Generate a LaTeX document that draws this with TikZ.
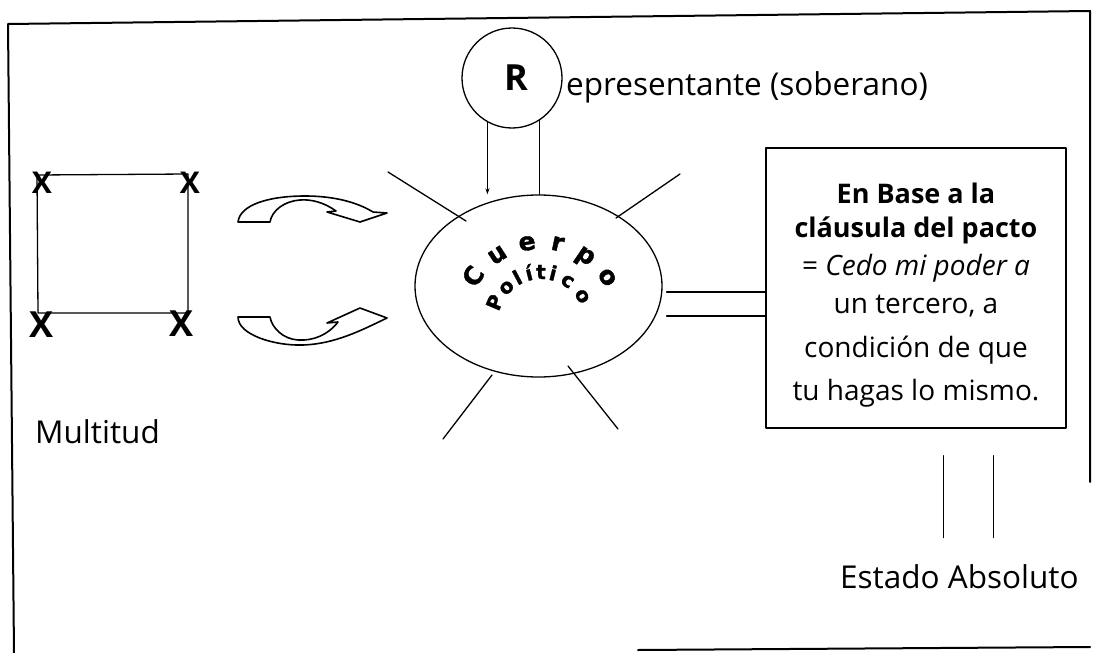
\documentclass[tikz,border=0pt]{standalone}
\usepackage{fontspec}
\setmainfont{Open Sans}
\newfontfamily\heavy[FakeBold=1.5]{DejaVu Sans}
\usetikzlibrary{calc,arrows.meta,shapes.geometric}
\begin{document}
\begin{tikzpicture}[x=1pt,y=-1pt,line cap=round,line join=round,
  frameline/.style={line width=2pt},
  thinline/.style={line width=1.3pt},
  lbl/.style={font=\fontsize{31.5}{36}\selectfont,inner sep=0pt},
  boxtxt/.style={font=\fontsize{28}{32}\selectfont,inner sep=0pt,anchor=base},
  boxbold/.style={boxtxt,font=\fontsize{27}{32}\selectfont\bfseries},
  xmark/.style={font=\fontsize{#1}{#1}\selectfont\bfseries,inner sep=0pt},
  arcl/.style={font=\fontsize{#1}{#1}\selectfont\heavy\bfseries,inner sep=0pt,anchor=base},
  curvarrow/.style={line width=1.6pt,fill=white}]
\useasboundingbox (0,0) rectangle (1093,653);

% outer frame
\draw[frameline] (14,653) -- (8,24) -- (1090,11) -- (1090,482);
\draw[frameline] (638,650) -- (1090,647);

% multitude square
\draw[thinline] (37,175) -- (188,174) -- (188,313) -- (38,313) -- cycle;
\node[xmark=30] (x1) at (42,183) {X};
\node[xmark=30] (x2) at (190,183) {X};
\node[xmark=36] (x3) at (42,325) {X};
\node[xmark=36] (x4) at (182,324) {X};
\node[lbl,anchor=base west] (mult) at (35,443) {Multitud};

% curved arrows
\draw[curvarrow] (238,222) .. controls (240,205) and (268,196) .. (305,196)
  .. controls (338,196) and (360,204) .. (373,212) -- (387,213) -- (360,222)
  -- (327,212) -- (336,211) .. controls (325,203) and (312,199) .. (300,200)
  .. controls (285,201) and (272,210) .. (270,222) -- cycle;
\draw[curvarrow] (238,317) .. controls (238,335) and (275,346) .. (303,345)
  .. controls (335,344) and (362,330) .. (387,318) -- (360,308)
  -- (327,323) -- (338,322) .. controls (328,335) and (313,341) .. (298,340)
  .. controls (283,339) and (272,328) .. (270,317) -- cycle;

% representative
\node[circle,draw,thinline,minimum size=100pt,inner sep=0pt,
      font=\fontsize{36}{36}\selectfont\bfseries] (rep) at (512,78) {\hspace*{9pt}R};
\node[lbl,anchor=base west] (reptxt) at (566,95) {epresentante (soberano)};

% body politic
\node[ellipse,draw,thinline,minimum width=247pt,minimum height=182pt,inner sep=0pt] (cuerpo) at (538.5,286) {};
\coordinate (cen) at (541,322);
\foreach \l/\a in {C/146,u/123,e/100,r/78,p/56,o/34}
  \node[arcl=25,rotate=\a-90] at ($(cen)+(-\a:73)$) {\l};
\foreach \l/\a in {P/157,o/135,l/118,í/104,t/90,i/76,c/57,o/32}
  \node[arcl=20,rotate=\a-90] at ($(cen)+(-\a:43)$) {\l};

% rays
\draw[thinline] (388,172) -- (466,221);
\draw[thinline] (680,174) -- (616,218);
\draw[thinline] (492,375) -- (443,439);
\draw[thinline] (568,366) -- (618,429);

% representative to body
\draw[thinline,-{Stealth[length=6pt,width=4pt]}] (rep.241) -- (rep.241 |- cuerpo.north);
\draw[thinline] (rep.303) -- (rep.303 |- cuerpo.north);

% pact box
\node[draw,thinline,minimum width=300pt,minimum height=280pt,inner sep=0pt] (pacto) at (916,288) {};
\node[boxbold] (t1) at (916,203) {En Base a la};
\node[boxbold] (t2) at (916,237) {cláusula del pacto};
\node[boxtxt] (t3) at (916,275) {= \textit{Cedo mi poder a}};
\node[boxtxt] (t4) at (916,313) {un tercero, a};
\node[boxtxt] (t5) at (916,357) {condición de que};
\node[boxtxt] (t6) at (916,400) {tu hagas lo mismo.};

% body to box
\coordinate (l1) at (0,292);
\coordinate (l2) at (0,316);
\draw[thinline] ([xshift=4pt]cuerpo.east |- l1) -- (pacto.west |- l1);
\draw[thinline] ([xshift=4pt]cuerpo.east |- l2) -- (pacto.west |- l2);

% box to absolute state
\node[lbl,anchor=base west] (estado) at (840,588) {Estado Absoluto};
\draw[thinline] ([shift={(27.5,27)}]pacto.south) -- ([shift={(27.5,109)}]pacto.south);
\draw[thinline] ([shift={(77.5,27)}]pacto.south) -- ([shift={(77.5,109)}]pacto.south);
\end{tikzpicture}
\end{document}
